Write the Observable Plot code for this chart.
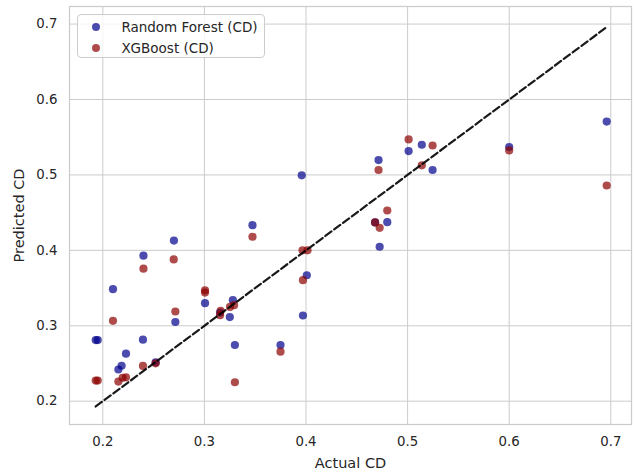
<!DOCTYPE html>
<html>
<head>
<meta charset="utf-8">
<script src="https://cdn.jsdelivr.net/npm/d3@7"></script>
<script src="https://cdn.jsdelivr.net/npm/@observablehq/plot@0.6"></script>
<style>
  body { margin: 0; background: #fff; }
  #wrap { position: relative; width: 634px; height: 473px; font-family: "DejaVu Sans", sans-serif; }
  #legend { position: absolute; left: 77px; top: 14px; width: 188px; height: 44px;
            border: 1px solid #cccccc; border-radius: 4px; background: rgba(255,255,255,0.8);
            box-sizing: border-box; }
  .item { position: absolute; left: 0; height: 20px; display: flex; align-items: center; font-size: 13.5px; color: #262626; white-space: nowrap; }
  .dot { width: 8.2px; height: 8.2px; border-radius: 50%; margin-left: 14.2px; margin-right: 21px; }
</style>
</head>
<body>
<div id="wrap"><div id="legend"></div></div>
<script>
const seriesNames = ["Random Forest (CD)", "XGBoost (CD)"];
const seriesColors = ["darkblue", "darkred"];

const rfActual = [0.193, 0.195, 0.210, 0.2153, 0.2185, 0.2228, 0.2395, 0.240, 0.252, 0.270,
                  0.2714, 0.3006, 0.3154, 0.325, 0.328, 0.330, 0.3473, 0.3749, 0.3958, 0.397,
                  0.4008, 0.468, 0.4714, 0.4725, 0.480, 0.501, 0.514, 0.5246, 0.600, 0.696];
const rfPred   = [0.281, 0.281, 0.3485, 0.242, 0.247, 0.263, 0.2815, 0.393, 0.2515, 0.413,
                  0.305, 0.330, 0.3176, 0.3115, 0.334, 0.2745, 0.4334, 0.2745, 0.4995, 0.3136,
                  0.367, 0.437, 0.5197, 0.4048, 0.4374, 0.5316, 0.540, 0.5065, 0.537, 0.5707];

const xgbActual = [0.193, 0.195, 0.210, 0.2153, 0.2195, 0.2228, 0.2395, 0.240, 0.252, 0.2698,
                   0.2714, 0.3006, 0.3006, 0.316, 0.3154, 0.3252, 0.3292, 0.330, 0.3473, 0.3749,
                   0.3966, 0.4015, 0.397, 0.468, 0.4725, 0.4714, 0.480, 0.501, 0.514, 0.5246,
                   0.600, 0.696];
const xgbPred   = [0.2273, 0.2273, 0.3066, 0.226, 0.231, 0.2317, 0.2468, 0.3757, 0.2502, 0.388,
                   0.3189, 0.347, 0.344, 0.3198, 0.314, 0.325, 0.3273, 0.2251, 0.418, 0.2657,
                   0.400, 0.400, 0.3604, 0.437, 0.4298, 0.5065, 0.4528, 0.547, 0.5127, 0.539,
                   0.5325, 0.486];

const xTicks = [0.2, 0.3, 0.4, 0.5, 0.6, 0.7];
const yTicks = [0.2, 0.3, 0.4, 0.5, 0.6, 0.7];

const rf = rfActual.map((a, i) => ({actual: a, pred: rfPred[i]}));
const xgb = xgbActual.map((a, i) => ({actual: a, pred: xgbPred[i]}));
const allActual = rfActual.concat(xgbActual);
const lo = d3.min(allActual), hi = d3.max(allActual);
const diag = [{v: lo}, {v: hi}];

const fmt = d3.format(".1f");
const gridColor = "#cccccc";
const textColor = "#262626";

const chart = Plot.plot({
  width: 634,
  height: 473,
  marginLeft: 69,
  marginRight: 3,
  marginTop: 6,
  marginBottom: 49,
  style: {fontFamily: "DejaVu Sans, sans-serif", background: "#fff", color: textColor},
  x: {domain: [0.1672, 0.7204]},
  y: {domain: [0.1691, 0.7233]},
  marks: [
    Plot.gridX(xTicks, {stroke: gridColor, strokeOpacity: 1, strokeWidth: 1}),
    Plot.gridY(yTicks, {stroke: gridColor, strokeOpacity: 1, strokeWidth: 1}),
    Plot.frame({stroke: gridColor, strokeWidth: 1.25}),
    Plot.axisX(xTicks, {tickSize: 0, tickPadding: 12, tickFormat: fmt, fontSize: 13.3, fill: textColor,
      label: "Actual CD", labelAnchor: "center", labelArrow: "none", labelOffset: 43}),
    Plot.axisY(yTicks, {tickSize: 0, tickPadding: 12, tickFormat: fmt, fontSize: 13.3, fill: textColor,
      label: "Predicted CD", labelAnchor: "center", labelArrow: "none", labelOffset: 56}),
    Plot.dot(rf, {x: "actual", y: "pred", r: 4.1, fill: seriesColors[0], fillOpacity: 0.7, stroke: null}),
    Plot.dot(xgb, {x: "actual", y: "pred", r: 4.1, fill: seriesColors[1], fillOpacity: 0.7, stroke: null}),
    Plot.line(diag, {x: "v", y: "v", stroke: "black", strokeOpacity: 0.9, strokeWidth: 2.2, strokeDasharray: "7.6,3.4"})
  ]
});
chart.querySelectorAll("g[aria-label='x-axis label'] text, g[aria-label='y-axis label'] text")
  .forEach(t => t.setAttribute("font-size", "14.5"));
document.getElementById("wrap").prepend(chart);

const legend = document.getElementById("legend");
seriesNames.forEach((name, i) => {
  const item = document.createElement("div");
  item.className = "item";
  item.style.top = (2 + i * 21.4) + "px";
  const dot = document.createElement("span");
  dot.className = "dot";
  dot.style.background = seriesColors[i];
  dot.style.opacity = 0.7;
  const label = document.createElement("span");
  label.textContent = name;
  item.appendChild(dot);
  item.appendChild(label);
  legend.appendChild(item);
});
</script>
</body>
</html>
